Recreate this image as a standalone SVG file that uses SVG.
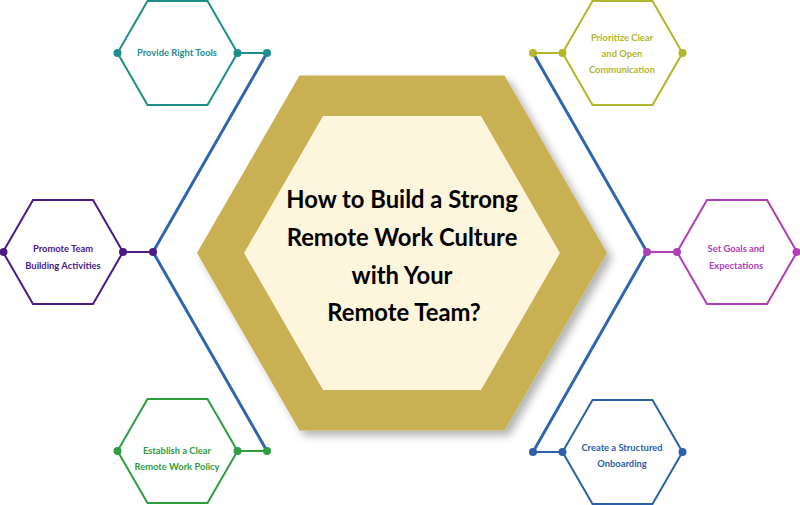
<svg xmlns="http://www.w3.org/2000/svg" width="800" height="505" viewBox="0 0 800 505">
<defs>
<filter id="sh" x="-10%" y="-10%" width="130%" height="130%">
<feDropShadow dx="5" dy="5" stdDeviation="4" flood-color="#000" flood-opacity="0.3"/>
</filter>
</defs>
<style>
.hex{fill:#fff;stroke-width:2}
.lbl{font-family:Lato,"Liberation Sans",sans-serif;font-weight:bold;font-size:9.4px;text-anchor:middle}
.title{font-family:Lato,"Liberation Sans",sans-serif;font-weight:bold;font-size:23.8px;text-anchor:middle;fill:#000}
.spine{fill:none;stroke:#2F66AE;stroke-width:3;stroke-linejoin:round}
</style>
<rect width="800" height="505" fill="#fff"/>
<g id="connectors">
<polyline class="spine" points="267,53 153,252 267,451"/>
<polyline class="spine" points="533,53 647,252 533,452"/>
<line x1="237.5" y1="53" x2="267" y2="53" stroke="#1E8E8A" stroke-width="2"/>
<line x1="123" y1="252" x2="153" y2="252" stroke="#4A1A86" stroke-width="2"/>
<line x1="237.5" y1="451" x2="267" y2="451" stroke="#2E9E40" stroke-width="2"/>
<line x1="533" y1="53" x2="562.5" y2="53" stroke="#B3B62A" stroke-width="2"/>
<line x1="647" y1="252" x2="677" y2="252" stroke="#B23DB8" stroke-width="2"/>
<line x1="533" y1="452" x2="562.5" y2="452" stroke="#2D60A9" stroke-width="2"/>
</g>
<g id="center">
<polygon points="197,253 299.5,75.5 504.5,75.5 607,253 504.5,430.5 299.5,430.5" fill="#C9B052" filter="url(#sh)"/>
<polygon points="244,253 323,116 481,116 560,253 481,390 323,390" fill="#FDF5DC"/>
<text class="title" x="402" y="208">How to Build a Strong</text>
<text class="title" x="402" y="246">Remote Work Culture</text>
<text class="title" x="402" y="284">with Your</text>
<text class="title" x="404" y="321">Remote Team?</text>
</g>
<g id="provide" fill="#1E8E8A">
<polygon class="hex" stroke="#1E8E8A" points="117.5,53 147.5,1 207.5,1 237.5,53 207.5,105 147.5,105"/>
<circle cx="117.5" cy="53" r="4"/><circle cx="237.5" cy="53" r="4"/><circle cx="267" cy="53" r="4"/>
<text class="lbl" x="177" y="56">Provide Right Tools</text>
</g>
<g id="promote" fill="#4A1A86">
<polygon class="hex" stroke="#4A1A86" points="3,252 33,200 93,200 123,252 93,304 33,304"/>
<circle cx="3.5" cy="252" r="4"/><circle cx="123" cy="252" r="4"/><circle cx="153" cy="252" r="4"/>
<text class="lbl" x="63" y="252">Promote Team</text>
<text class="lbl" x="63" y="269">Building Activities</text>
</g>
<g id="establish" fill="#2E9E40">
<polygon class="hex" stroke="#2E9E40" points="117.5,451 147.5,399 207.5,399 237.5,451 207.5,503 147.5,503"/>
<circle cx="117.5" cy="451" r="4"/><circle cx="237.5" cy="451" r="4"/><circle cx="267" cy="451" r="4"/>
<text class="lbl" x="177" y="454">Establish a Clear</text>
<text class="lbl" x="177" y="470">Remote Work Policy</text>
</g>
<g id="prioritize" fill="#B3B62A">
<polygon class="hex" stroke="#B3B62A" points="562.5,53 592.5,1 652.5,1 682.5,53 652.5,105 592.5,105"/>
<circle cx="533" cy="53" r="4"/><circle cx="562.5" cy="53" r="4"/><circle cx="682.5" cy="53" r="4"/>
<text class="lbl" x="622" y="41">Prioritize Clear</text>
<text class="lbl" x="622" y="57">and Open</text>
<text class="lbl" x="622" y="73">Communication</text>
</g>
<g id="goals" fill="#B23DB8">
<polygon class="hex" stroke="#B23DB8" points="677,252 707,200 767,200 797,252 767,304 707,304"/>
<circle cx="647" cy="252" r="4"/><circle cx="677" cy="252" r="4"/><circle cx="796.5" cy="252" r="4"/>
<text class="lbl" x="736" y="252">Set Goals and</text>
<text class="lbl" x="736" y="269">Expectations</text>
</g>
<g id="onboarding" fill="#2D60A9">
<polygon class="hex" stroke="#2D60A9" points="562.5,452 592.5,400 652.5,400 682.5,452 652.5,504 592.5,504"/>
<circle cx="533" cy="452" r="4"/><circle cx="562.5" cy="452" r="4"/><circle cx="682.5" cy="452" r="4"/>
<text class="lbl" x="622" y="451">Create a Structured</text>
<text class="lbl" x="622" y="467">Onboarding</text>
</g>
</svg>
